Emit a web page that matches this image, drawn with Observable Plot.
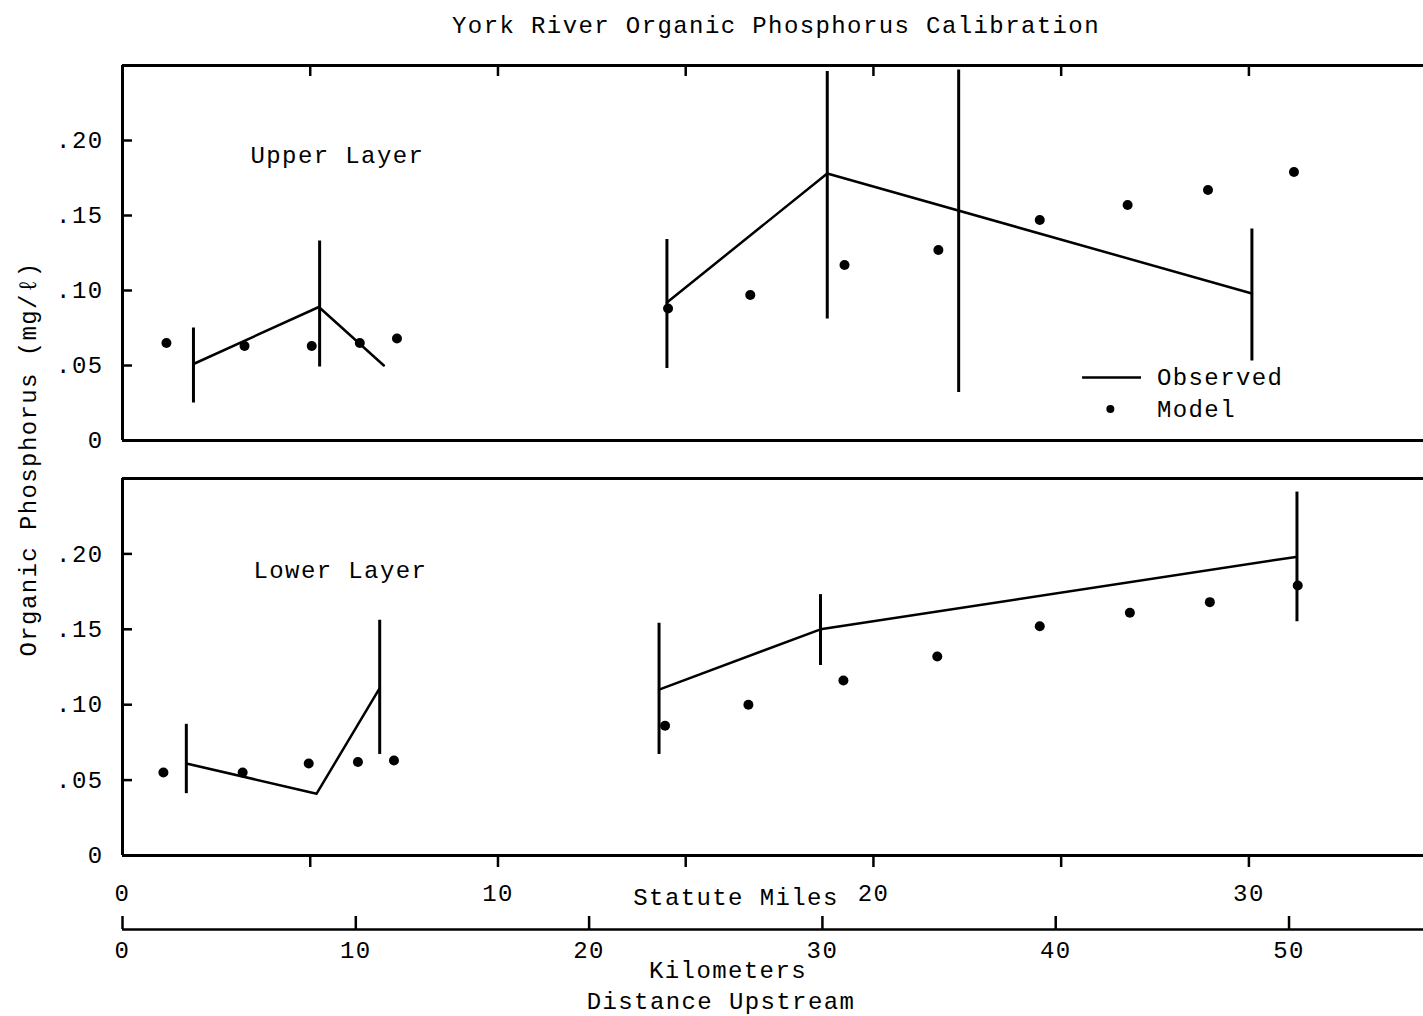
<!DOCTYPE html>
<html>
<head>
<meta charset="utf-8">
<title>York River Organic Phosphorus Calibration</title>
<script src="https://cdn.jsdelivr.net/npm/d3@7"></script>
<script src="https://cdn.jsdelivr.net/npm/@observablehq/plot@0.6"></script>
<style>
  html, body { margin: 0; padding: 0; background: #fff; }
  #chart { position: relative; width: 1423px; height: 1016px; overflow: hidden; background: #fff; }
  #chart svg { position: absolute; left: 0; }
</style>
</head>
<body>
<div id="chart"></div>
<script>
// ---------------------------------------------------------------
// Axis extents and ticks
// ---------------------------------------------------------------
const KM_PER_MILE = 1.609344;
const xMaxMiles = 34.65;                 // panels run past 30 mi to the page edge
const xMaxKm = xMaxMiles * KM_PER_MILE;
const pMax = 0.25;                       // mg/l

const mileTicks = [0, 5, 10, 15, 20, 25, 30];
const mileLabels = [0, 10, 20, 30];
const kmTicks = [0, 10, 20, 30, 40, 50];
const pTicks = [0, 0.05, 0.10, 0.15, 0.20];

// ---------------------------------------------------------------
// Upper layer (distance upstream in statute miles, P in mg/l)
// ---------------------------------------------------------------
const upperModelMiles = [1.17, 3.25, 5.04, 6.32, 7.31, 14.53, 16.72, 19.23, 21.73, 24.43, 26.77, 28.91, 31.20];
const upperModelP     = [0.065, 0.063, 0.063, 0.065, 0.068, 0.088, 0.097, 0.117, 0.127, 0.147, 0.157, 0.167, 0.179];

const upperObsMiles = [1.89, 5.23, 6.96, 14.50, 18.77, 30.08];
const upperObsP     = [0.051, 0.089, 0.050, 0.092, 0.178, 0.098];
const upperObsReach = [1, 1, 1, 2, 2, 2];

const upperRangeMiles = [1.89, 5.25, 14.50, 18.77, 22.27, 30.08];
const upperRangeLo    = [0.025, 0.049, 0.048, 0.081, 0.032, 0.053];
const upperRangeHi    = [0.075, 0.133, 0.134, 0.246, 0.247, 0.141];

// ---------------------------------------------------------------
// Lower layer
// ---------------------------------------------------------------
const lowerModelMiles = [1.09, 3.20, 4.96, 6.27, 7.23, 14.45, 16.67, 19.20, 21.70, 24.43, 26.83, 28.96, 31.30];
const lowerModelP     = [0.055, 0.055, 0.061, 0.062, 0.063, 0.086, 0.100, 0.116, 0.132, 0.152, 0.161, 0.168, 0.179];

const lowerObsMiles = [1.70, 5.17, 6.85, 14.29, 18.59, 31.25];
const lowerObsP     = [0.061, 0.041, 0.111, 0.110, 0.150, 0.198];
const lowerObsReach = [1, 1, 1, 2, 2, 2];

const lowerRangeMiles = [1.70, 6.85, 14.29, 18.59, 31.28];
const lowerRangeLo    = [0.041, 0.067, 0.067, 0.126, 0.155];
const lowerRangeHi    = [0.087, 0.156, 0.154, 0.173, 0.241];

// Legend placement inside the upper panel (miles, mg/l)
const legendLine = {x1: 25.57, x2: 27.14, y: 0.042};
const legendDot = {x: 26.31, y: 0.021};
const legendTextX = 27.55;

// ---------------------------------------------------------------
// Layout and styling
// ---------------------------------------------------------------
const W = 1423;
const ML = 122;
const FRAME_W = W - ML;
const baseStyle = {
  fontFamily: '"Liberation Mono", "DejaVu Sans Mono", monospace',
  fontSize: "24px",
  letterSpacing: "1.4px",
  color: "black",
  background: "transparent",
  overflow: "visible"
};
const fmtP = d => d === 0 ? "0" : d3.format(".2f")(d).slice(1);

// A free-standing label placed relative to the plot frame
function label(text, frameAnchor, dx, dy, extra = {}) {
  return Plot.text([text], {text: d => d, frameAnchor, lineAnchor: "middle", dx, dy, ...extra});
}

function layerPlot(layer, o) {
  const model = layer.modelMiles.map((m, i) => ({miles: m, p: layer.modelP[i]}));
  const observed = layer.obsMiles.map((m, i) => ({miles: m, p: layer.obsP[i], reach: layer.obsReach[i]}));
  const ranges = layer.rangeMiles.map((m, i) => ({miles: m, lo: layer.rangeLo[i], hi: layer.rangeHi[i]}));
  const frameH = o.height - o.marginTop - o.marginBottom;

  return Plot.plot({
    width: W,
    height: o.height,
    marginLeft: ML,
    marginRight: 0,
    marginTop: o.marginTop,
    marginBottom: o.marginBottom,
    style: baseStyle,
    x: {domain: [0, xMaxMiles], label: null, axis: o.xAxis ? undefined : null},
    y: {domain: [0, pMax], label: null},
    marks: [
      // y tick labels, ticks pointing into the panel
      Plot.axisY(pTicks, {tickSize: 0, tickPadding: 19, tickFormat: fmtP, label: null}),
      Plot.tickY(pTicks.filter(d => d > 0), {y: d => d, insetRight: FRAME_W - 10, strokeWidth: 2.5}),
      // panel border: left, bottom, top
      Plot.ruleX([0], {strokeWidth: 3}),
      Plot.ruleY([0, pMax], {strokeWidth: 3}),
      ...o.extra(frameH),
      // observed ranges, observed means, model results
      Plot.ruleX(ranges, {x: "miles", y1: "lo", y2: "hi", strokeWidth: 3}),
      Plot.line(observed, {x: "miles", y: "p", z: "reach", strokeWidth: 2.5}),
      Plot.dot(model, {x: "miles", y: "p", r: 5, fill: "black", stroke: "none"}),
      label(layer.name, "top-left", o.nameDx, o.nameDy, {textAnchor: "start"})
    ]
  });
}

const upperLayer = {
  name: "Upper Layer",
  modelMiles: upperModelMiles, modelP: upperModelP,
  obsMiles: upperObsMiles, obsP: upperObsP, obsReach: upperObsReach,
  rangeMiles: upperRangeMiles, rangeLo: upperRangeLo, rangeHi: upperRangeHi
};
const lowerLayer = {
  name: "Lower Layer",
  modelMiles: lowerModelMiles, modelP: lowerModelP,
  obsMiles: lowerObsMiles, obsP: lowerObsP, obsReach: lowerObsReach,
  rangeMiles: lowerRangeMiles, rangeLo: lowerRangeLo, rangeHi: lowerRangeHi
};

// Upper panel: title, shared y label, tick marks along the top border, legend
const upper = layerPlot(upperLayer, {
  height: 460, marginTop: 65, marginBottom: 20, xAxis: false,
  nameDx: 128, nameDy: 90,
  extra: frameH => [
    Plot.tickX(mileTicks.filter(d => d > 0), {x: d => d, insetBottom: frameH - 11, strokeWidth: 2.5}),
    label("York River Organic Phosphorus Calibration", "top", 3, -40, {textAnchor: "middle"}),
    label("Organic Phosphorus (mg/\u2113)", "left", -94, 206, {textAnchor: "middle", rotate: -90}),
    Plot.ruleY([legendLine], {y: "y", x1: "x1", x2: "x2", strokeWidth: 2.5}),
    Plot.dot([legendDot], {x: "x", y: "y", r: 4, fill: "black", stroke: "none"}),
    Plot.text([{t: "Observed", y: legendLine.y}, {t: "Model", y: legendDot.y}],
      {x: () => legendTextX, y: "y", text: "t", textAnchor: "start", lineAnchor: "middle"})
  ]
});
upper.style.top = "0px";

// Lower panel: statute-mile axis below
const lower = layerPlot(lowerLayer, {
  height: 450, marginTop: 18, marginBottom: 55, xAxis: true,
  nameDx: 131, nameDy: 92,
  extra: () => [
    Plot.axisX(mileTicks.filter(d => d > 0), {tickSize: 12, tickFormat: () => "", strokeWidth: 2.5, label: null}),
    Plot.axisX(mileLabels, {tickSize: 0, tickPadding: 28, tickFormat: d => String(d), label: null}),
    label("Statute Miles", "bottom", -37, 42, {textAnchor: "middle"})
  ]
});
lower.style.top = "460px";

// Kilometre scale with ticks pointing up
const km = Plot.plot({
  width: W,
  height: 106,
  marginLeft: ML,
  marginRight: 0,
  marginTop: 6,
  marginBottom: 87,
  style: baseStyle,
  x: {domain: [0, xMaxKm], label: null},
  y: {domain: [0, 1], axis: null},
  marks: [
    Plot.ruleY([0], {strokeWidth: 2.5}),
    Plot.tickX(kmTicks, {x: d => d, strokeWidth: 2.5}),
    Plot.axisX(kmTicks, {tickSize: 0, tickPadding: 11, tickFormat: d => String(d), label: null}),
    label("Kilometers", "bottom", -45, 41, {textAnchor: "middle"}),
    label("Distance Upstream", "bottom", -52, 72, {textAnchor: "middle"})
  ]
});
km.style.top = "910px";

const chart = document.getElementById("chart");
chart.append(upper, lower, km);
</script>
</body>
</html>
